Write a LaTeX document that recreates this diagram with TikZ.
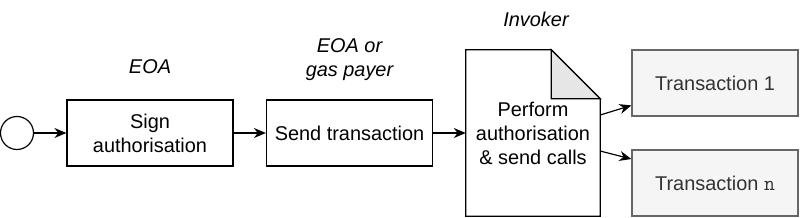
\documentclass[tikz,border=0pt]{standalone}
\usepackage{fontspec}
\setmainfont{Liberation Sans}
\usetikzlibrary{positioning,arrows.meta,calc}
\definecolor{txfill}{HTML}{F5F5F5}
\definecolor{txline}{HTML}{666666}
\definecolor{txtext}{HTML}{333333}
\definecolor{foldfill}{HTML}{E6E6E6}

\begin{document}
\begin{tikzpicture}[
  x=0.03cm, y=-0.03cm,
  font=\fontsize{17}{20.5}\selectfont,
  >={Stealth[length=0.36cm,width=0.3cm]},
  start/.style={draw, circle, line width=1pt, minimum size=0.99cm, inner sep=0pt},
  task/.style={draw, line width=1pt, minimum width=4.98cm, minimum height=1.98cm, align=center},
  doc/.style={minimum width=4.02cm, minimum height=4.98cm, align=center, inner sep=0pt},
  txbox/.style={draw=txline, fill=txfill, text=txtext, line width=1pt, minimum width=4.98cm, minimum height=1.98cm},
  role/.style={font=\fontsize{17}{20.5}\selectfont\itshape, align=center, inner sep=0pt},
  flow/.style={->, line width=1pt},
]
\useasboundingbox (0,0) rectangle (800,217);

% Start event and tasks
\node[start] (s) at (17,133) {};
\node[task] (sign) at (150,133) {Sign\\authorisation};
\node[task] (send) at (349.5,133) {Send transaction};
\node[doc] (inv) at (533,133) {Perform\\authorisation\\\& send calls};

% Invoker document outline with folded corner
\draw[line width=1pt] (inv.north west) -- ($(inv.north east)+(-49,0)$)
  -- ($(inv.north east)+(0,49)$) -- (inv.south east) -- (inv.south west) -- cycle;
\draw[line width=1pt, fill=foldfill] ($(inv.north east)+(-49,0)$)
  -- ($(inv.north east)+(-49,49)$) -- ($(inv.north east)+(0,49)$) -- cycle;

% Resulting transactions
\node[txbox] (t1) at (715,83) {Transaction 1};
\node[txbox] (tn) at (715,183) {Transaction \texttt{\fontsize{18}{20.5}\selectfont n}};

% Roles
\node[role] (r1) at (150,67) {EOA};
\node[role] (r2) at (349.5,60) {EOA or\\gas payer};
\node[role] (r3) at (536,19) {Invoker};

% Flow
\draw[flow] (s) -- (sign);
\draw[flow] (sign) -- (send);
\draw[flow] (send) -- (inv);
\draw[flow] (inv.15) -- (t1.195);
\draw[flow] (inv.-15) -- (tn.164);

\end{tikzpicture}
\end{document}
